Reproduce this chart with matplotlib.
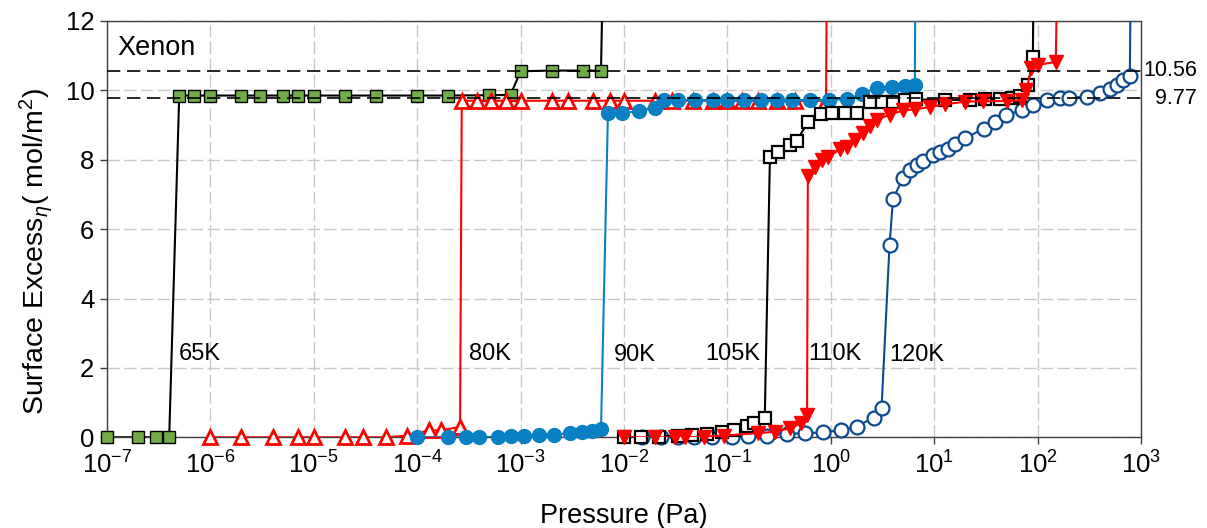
import matplotlib
matplotlib.use("Agg")
import matplotlib.pyplot as plt
import matplotlib.transforms as mtransforms
from matplotlib.ticker import LogLocator, LogFormatterMathtext, NullLocator
import numpy as np

plt.rcParams['font.family'] = ['Liberation Sans', 'DejaVu Sans']
plt.rcParams['mathtext.fontset'] = 'custom'
plt.rcParams['mathtext.rm'] = 'Liberation Sans'
plt.rcParams['mathtext.it'] = 'Liberation Sans:italic'

# Xenon surface excess isotherms (pressure in Pa, excess in umol/m2)
p_65 = [1e-7, 2e-7, 3e-7, 4e-7, 5e-7, 7e-7, 1e-6, 2e-6, 3e-6, 5e-6, 7e-6, 1e-5,
        2e-5, 4e-5, 1e-4, 2e-4, 5e-4, 8e-4, 1e-3, 2e-3, 4e-3, 6e-3, 6.3e-3]
g_65 = [0, 0, 0, 0, 9.85, 9.85, 9.85, 9.85, 9.85, 9.85, 9.85, 9.85,
        9.85, 9.85, 9.85, 9.85, 9.86, 9.87, 10.55, 10.57, 10.57, 10.57, 14]

p_80 = [1e-6, 2e-6, 4e-6, 7e-6, 1e-5, 2e-5, 3e-5, 5e-5, 8e-5, 1.3e-4, 1.7e-4, 2.6e-4,
        2.7e-4, 3.8e-4, 5.2e-4, 7.2e-4, 1e-3, 2e-3, 2.9e-3, 5e-3, 7.3e-3, 1e-2,
        2e-2, 2.9e-2, 4.7e-2, 7.3e-2, 0.1, 0.14, 0.2, 0.3, 0.45, 0.9, 0.92]
g_80 = [0, 0, 0, 0, 0, 0, 0, 0, 0.05, 0.2, 0.2, 0.3,
        9.7, 9.7, 9.7, 9.7, 9.7, 9.7, 9.7, 9.7, 9.7, 9.7,
        9.7, 9.7, 9.7, 9.7, 9.7, 9.7, 9.7, 9.7, 9.7, 9.7, 14]

p_90 = [1e-4, 2e-4, 3e-4, 4e-4, 6e-4, 8e-4, 1.07e-3, 1.5e-3, 2.1e-3, 3e-3, 3.9e-3,
        4.9e-3, 6e-3, 7e-3, 9.5e-3, 1.4e-2, 2e-2, 2.45e-2, 3.3e-2, 4.9e-2, 7.2e-2,
        0.1, 0.145, 0.21, 0.3, 0.42, 0.63, 0.96, 1.45, 2.0, 2.8, 3.9, 5.2, 6.5, 6.6]
g_90 = [0, 0, 0, 0, 0.02, 0.03, 0.04, 0.06, 0.08, 0.12, 0.15,
        0.18, 0.25, 9.35, 9.35, 9.4, 9.5, 9.72, 9.72, 9.72, 9.72,
        9.72, 9.72, 9.72, 9.72, 9.72, 9.72, 9.72, 9.75, 9.9, 10.08, 10.1, 10.12, 10.14, 14]

p_105 = [0.01, 0.0145, 0.022, 0.033, 0.046, 0.063, 0.088, 0.115, 0.155, 0.18, 0.23,
         0.258, 0.306, 0.40, 0.47, 0.6, 0.8, 1.03, 1.38, 1.78, 2.4, 3.1, 4.0, 5.2, 6.7,
         12.6, 22, 31, 43, 57, 68, 81, 90, 92]
g_105 = [0, 0, 0.02, 0.05, 0.07, 0.1, 0.15, 0.2, 0.33, 0.4, 0.55,
         8.08, 8.22, 8.42, 8.55, 9.08, 9.31, 9.34, 9.34, 9.34, 9.65, 9.67, 9.67, 9.72, 9.74,
         9.72, 9.73, 9.74, 9.75, 9.78, 9.85, 10.15, 10.95, 14]

p_110 = [0.01, 0.02, 0.031, 0.039, 0.06, 0.092, 0.2, 0.29, 0.40, 0.52, 0.59,
         0.6, 0.70, 0.82, 0.94, 1.23, 1.43, 1.71, 2.05, 2.4, 2.8, 3.7, 5.0, 6.5, 9.1,
         12.7, 19.8, 29.5, 51, 70, 78, 87, 100, 150, 156]
g_110 = [0, 0, 0, 0, 0.02, 0.05, 0.12, 0.16, 0.26, 0.4, 0.64,
         7.52, 7.8, 8.0, 8.08, 8.3, 8.37, 8.57, 8.76, 8.98, 9.15, 9.3, 9.42, 9.45, 9.52,
         9.6, 9.67, 9.69, 9.69, 9.72, 10.0, 10.63, 10.73, 10.82, 14]

p_120 = [0.015, 0.023, 0.033, 0.048, 0.071, 0.11, 0.16, 0.24, 0.38, 0.56, 0.85,
         1.27, 1.78, 2.6, 3.1, 3.7, 4.0, 5.0, 5.8, 6.8, 7.8, 9.7, 11.4, 13.7, 16, 20,
         30, 39, 50, 70, 91, 123, 166, 200, 300, 400, 500, 580, 675, 780, 800]
g_120 = [0, 0, 0, 0, 0, 0.02, 0.04, 0.05, 0.1, 0.12, 0.14,
         0.21, 0.31, 0.57, 0.85, 5.54, 6.87, 7.48, 7.7, 7.85, 7.96, 8.14, 8.22, 8.3, 8.45, 8.62,
         8.9, 9.1, 9.29, 9.43, 9.58, 9.72, 9.77, 9.78, 9.82, 9.91, 10.03, 10.15, 10.3, 10.4, 14]

temp_labels = ['65K', '80K', '90K', '105K', '110K', '120K']
label_pos = [(5.0e-7, 2.4), (3.2e-4, 2.4), (8.0e-3, 2.37), (0.061, 2.4), (0.61, 2.4), (3.7, 2.37)]

monolayer = [10.56, 9.77]

fig = plt.figure(figsize=(12.07, 5.28), dpi=100)
ax = fig.add_axes([0.0886, 0.1718, 0.8567, 0.7885])


def draw(p, g, color, marker, face, ms, mew, z):
    p = np.array(p)
    g = np.array(g)
    ax.plot(p, g, '-', color=color, lw=1.5, zorder=z)
    keep = g <= 12
    ax.plot(p[keep], g[keep], ls='none', marker=marker, ms=ms, mfc=face,
            mec=color if face == 'white' or face == color else 'black',
            mew=mew, zorder=z + 0.5, clip_on=False)


draw(p_65, g_65, 'black', 's', '#70AD47', 9, 1.0, 3)
draw(p_80, g_80, '#FF0000', '^', 'white', 10, 2.0, 4)
draw(p_90, g_90, '#0A80C4', 'o', '#0A80C4', 10, 1.0, 5)
draw(p_120, g_120, '#0B4A8F', 'o', 'white', 10, 1.6, 6)
draw(p_105, g_105, 'black', 's', 'white', 9, 1.6, 7)
draw(p_110, g_110, '#FF0000', 'v', '#FF0000', 10, 1.0, 8)

for val in monolayer:
    ax.axhline(val, color='black', lw=1.2, ls=(0, (8, 4)), zorder=9)

trans = mtransforms.blended_transform_factory(ax.transAxes, ax.transData)
for val in monolayer:
    ax.text(1.054, val, f'{val:.2f}', transform=trans, ha='right', va='center', fontsize=15.5)

for txt, (x, y) in zip(temp_labels, label_pos):
    ax.text(x, y, txt, fontsize=17, ha='left', va='center', zorder=10)

ax.text(0.010, 0.935, 'Xenon', transform=ax.transAxes, fontsize=19.5, ha='left', va='center')

ax.set_xscale('log')
ax.set_xlim(1e-7, 1e3)
ax.set_ylim(0, 12)
ax.xaxis.set_major_locator(LogLocator(base=10, numticks=20))
ax.xaxis.set_major_formatter(LogFormatterMathtext())
ax.xaxis.set_minor_locator(NullLocator())
ax.set_yticks([0, 2, 4, 6, 8, 10, 12])

ax.grid(True, which='major', color='#C8C8C8', lw=1.0, ls=(0, (9, 3)), zorder=0)
ax.set_axisbelow(True)
for s in ax.spines.values():
    s.set_color('#404040')
    s.set_linewidth(1.0)
ax.tick_params(axis='both', direction='out', length=5, width=1, labelsize=18.5, color='#404040')
ax.tick_params(axis='x', pad=5)
ax.tick_params(axis='y', pad=4)

ax.set_xlabel('Pressure (Pa)', fontsize=19.5)
ax.xaxis.set_label_coords(0.5, -0.158)
ax.set_ylabel(r'Surface Excess$_\eta$( mol/m$^2$)', fontsize=20.5)
ax.yaxis.set_label_coords(-0.05, 0.445)

fig.savefig('out.png', dpi=100)
